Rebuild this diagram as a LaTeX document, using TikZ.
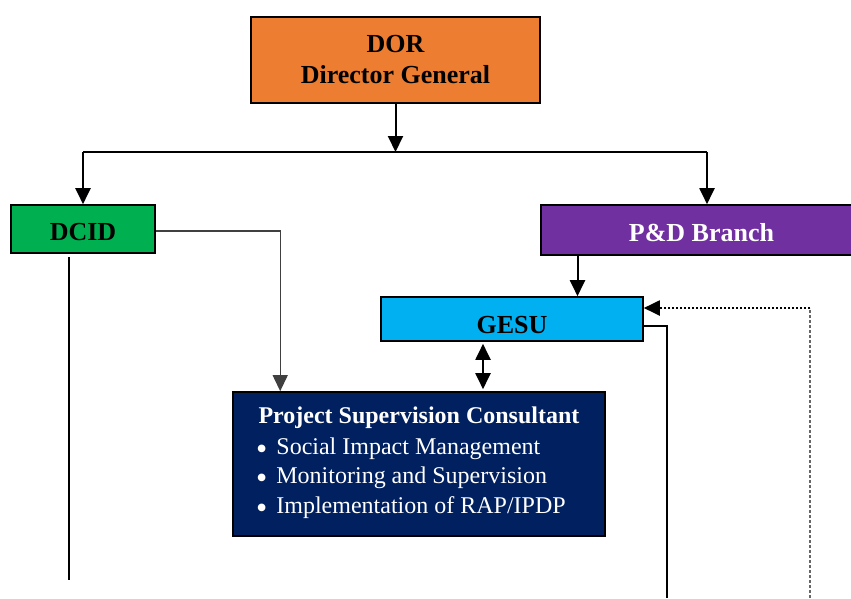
\documentclass[tikz,border=0pt]{standalone}
\usepackage{fontspec}
\setmainfont{Liberation Serif}
\usetikzlibrary{arrows.meta,positioning}
\definecolor{dororange}{HTML}{ED7D31}
\definecolor{dcidgreen}{HTML}{00B050}
\definecolor{pdpurple}{HTML}{7030A0}
\definecolor{gesublue}{HTML}{00B0F0}
\definecolor{pscnavy}{HTML}{002060}
\newcommand{\pscbullet}{\smash{\raisebox{-5pt}{\fontsize{32}{32}\selectfont\textbullet}}\hspace{9pt}}
\begin{document}
\begin{tikzpicture}[x=1pt,y=-1pt,
    unitbox/.style={draw=black,line width=1.6pt,inner sep=0pt,
      font=\fontsize{26}{31}\selectfont\bfseries,align=center},
    conn/.style={line width=2pt},
    tip/.style={-{Triangle[length=16pt,width=15pt]}}]
  \useasboundingbox (0,0) rectangle (851,598);
  \node[unitbox,fill=dororange,minimum width=289pt,minimum height=86pt] (dor) at (395.5,60) {DOR\\Director General};
  \node[unitbox,fill=dcidgreen,minimum width=144pt,minimum height=48pt,text height=23pt,text depth=0pt] (dcid) at (83,229) {DCID};
  \node[unitbox,fill=pdpurple,text=white,minimum width=321pt,minimum height=50pt,text height=22pt,text depth=0pt] (pd) at (701.5,230) {P\&D Branch};
  \node[unitbox,fill=gesublue,minimum width=262pt,minimum height=44pt,text height=29pt,text depth=0pt] (gesu) at (512,319) {GESU};
  \node[unitbox,fill=pscnavy,minimum width=372pt,minimum height=144pt] (psc) at (419,464) {};
  \node[font=\fontsize{24}{29}\selectfont\bfseries,text=white,inner sep=0pt] (psctitle) at (419,418) {Project Supervision Consultant};
  \node[font=\fontsize{24}{29.5}\selectfont,text=white,inner sep=0pt,align=left,anchor=west] (pscitems) at (256,478)
    {\pscbullet Social Impact Management\\
     \pscbullet Monitoring and Supervision\\
     \pscbullet Implementation of RAP/IPDP};
  \coordinate (barL) at (83,152);
  \coordinate (barR) at (707,152);
  \coordinate (dcidend) at (69,580);
  \coordinate (gesuend) at (667,598);
  \coordinate (dotend) at (810,598);
  \coordinate (dotturn) at (810,308);
  % from the director general
  \draw[conn,tip] (dor.south) -- (dor.south |- barL);
  \draw[conn] (barL) -- (barR);
  \draw[conn,tip] (barL) -- (barL |- dcid.north);
  \draw[conn,tip] (barR) -- (barR |- pd.north);
  % dcid lines
  \draw[line width=1.2pt,black!75,tip] ([yshift=-2pt]dcid.east) -| ([xshift=48pt]psc.north west);
  \draw[conn] ([xshift=-14pt,yshift=-3pt]dcid.south) -- (dcidend);
  % gesu links
  \draw[conn,tip] ([xshift=-124pt]pd.south) -- ([xshift=-124pt]pd.south |- gesu.north);
  \draw[conn,{Triangle[length=16pt,width=15pt]}-{Triangle[length=16pt,width=15pt]}] ([xshift=-29pt,yshift=-2pt]gesu.south) -- ([xshift=-29pt,yshift=2pt]gesu.south |- psc.north);
  \draw[conn] ([yshift=-7pt]gesu.east) -| (gesuend);
  \draw[line width=1.5pt,black!60,dash pattern=on 3pt off 2pt] (dotend) -- (dotturn);
  \draw[line width=2pt,dotted,tip] (dotturn) -- (dotturn -| gesu.east);
\end{tikzpicture}
\end{document}
